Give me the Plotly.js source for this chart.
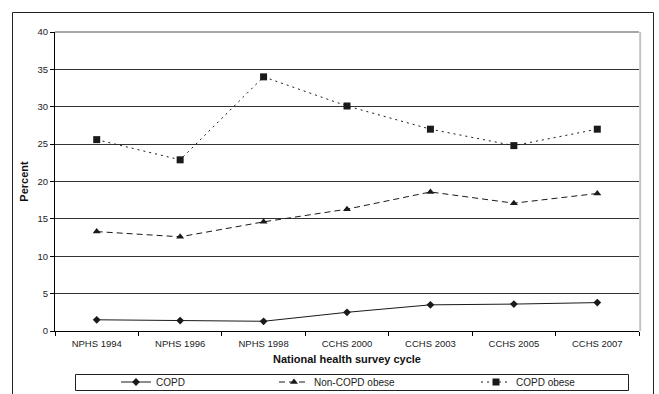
<!DOCTYPE html>
<html>
<head>
<meta charset="utf-8">
<script src="https://cdn.plot.ly/plotly-3.0.1.min.js"></script>
<style>
  html, body { margin: 0; padding: 0; background: #fff; }
  #chart { width: 659px; height: 394px; }
</style>
</head>
<body>
<div id="chart"></div>
<script>
// Survey cycles on the x axis
const cycles = ["NPHS 1994", "NPHS 1996", "NPHS 1998", "CCHS 2000", "CCHS 2003", "CCHS 2005", "CCHS 2007"];

// Prevalence (%) per cycle
const copd = [1.5, 1.4, 1.3, 2.5, 3.5, 3.6, 3.8];
const nonCopdObese = [13.3, 12.6, 14.6, 16.3, 18.6, 17.1, 18.4];
const copdObese = [25.6, 22.9, 34.0, 30.1, 27.0, 24.8, 27.0];

const yTicks = [0, 5, 10, 15, 20, 25, 30, 35, 40];

const ink = "#1a1a1a";

// each series gets its own legend so the entries can sit at set spots in the key box
const traces = [
  {
    x: cycles, y: copd, name: "COPD", type: "scatter", mode: "lines+markers",
    legend: "legend",
    line: { color: ink, width: 1, dash: "solid" },
    marker: { symbol: "diamond", size: 6, color: ink }
  },
  {
    x: cycles, y: nonCopdObese, name: "Non-COPD obese", type: "scatter", mode: "lines+markers",
    legend: "legend2",
    line: { color: ink, width: 1, dash: "6px,4px" },
    marker: { symbol: "triangle-up", size: 7, color: ink }
  },
  {
    x: cycles, y: copdObese, name: "COPD obese", type: "scatter", mode: "lines+markers",
    legend: "legend3",
    line: { color: ink, width: 1, dash: "2px,4px" },
    marker: { symbol: "square", size: 7, color: ink }
  }
];

const W = 659, H = 394;
const plotTop = 32, plotBottom = 331, plotLeft = 55, plotRight = 639;
const pw = plotRight - plotLeft, ph = plotBottom - plotTop;
const px = v => (v - plotLeft) / pw;
const py = v => (plotBottom - v) / ph;

const titleFont = { size: 11, color: "#111", family: "Liberation Sans, Arial, sans-serif", weight: "bold" };
const tickFont = { size: 9.5, color: "#222" };

// key box and entry placement (pixels)
const keyLeft = 75, keyRight = 628, keyTop = 374, keyBottom = 390;
const keyMid = (keyTop + keyBottom) / 2;
const entryX = [116, 274, 476];

function keyEntry(xPix) {
  return {
    orientation: "h",
    xref: "container", yref: "container",
    x: xPix / W, xanchor: "left",
    y: 1 - keyMid / H, yanchor: "middle",
    bgcolor: "rgba(0,0,0,0)", borderwidth: 0,
    font: { size: 10, color: "#222" }
  };
}

const layout = {
  width: W, height: H,
  margin: { l: plotLeft, r: W - plotRight, t: plotTop, b: H - plotBottom },
  paper_bgcolor: "#fff", plot_bgcolor: "#fff",
  font: { family: "Liberation Sans, Arial, sans-serif", size: 10, color: "#222" },
  showlegend: true,
  xaxis: {
    type: "category",
    automargin: false,
    range: [-0.5, cycles.length - 0.5],
    tickson: "boundaries",
    ticks: "outside", ticklen: 4, tickcolor: "#000",
    ticklabelstandoff: 4,
    showline: true, linecolor: "#000", linewidth: 1,
    showgrid: false, zeroline: false,
    tickfont: tickFont,
    title: { text: "National health survey cycle", font: titleFont, standoff: 6 }
  },
  yaxis: {
    automargin: false,
    range: [0, 40],
    tickvals: yTicks,
    ticks: "outside", ticklen: 4, tickcolor: "#000",
    showline: true, linecolor: "#000", linewidth: 1,
    showgrid: true, gridcolor: "#333", gridwidth: 1,
    zeroline: false,
    tickfont: tickFont,
    title: { text: "Percent", font: titleFont, standoff: 6 }
  },
  legend: keyEntry(entryX[0]),
  legend2: keyEntry(entryX[1]),
  legend3: keyEntry(entryX[2]),
  shapes: [
    // plot-area border: grey top, light grey right
    { type: "line", xref: "paper", yref: "paper", x0: 0, x1: 1, y0: 1, y1: 1, line: { color: "#8a8a8a", width: 1.5 } },
    { type: "line", xref: "paper", yref: "paper", x0: 1.002, x1: 1.002, y0: 0, y1: 1, line: { color: "#c4c4c4", width: 2 } },
    // key box
    { type: "rect", xref: "paper", yref: "paper", x0: px(keyLeft + 0.5), x1: px(keyRight + 0.5), y0: py(keyBottom + 0.5), y1: py(keyTop + 0.5), line: { color: "#222", width: 1 }, fillcolor: "rgba(0,0,0,0)" },
    // outer chart frame
    { type: "rect", xref: "paper", yref: "paper", x0: px(12.5), x1: px(653.5), y0: py(420), y1: py(12.5), line: { color: "#222", width: 1 }, fillcolor: "rgba(0,0,0,0)" }
  ]
};

Plotly.newPlot("chart", traces, layout, { displayModeBar: false, staticPlot: true });
</script>
</body>
</html>
